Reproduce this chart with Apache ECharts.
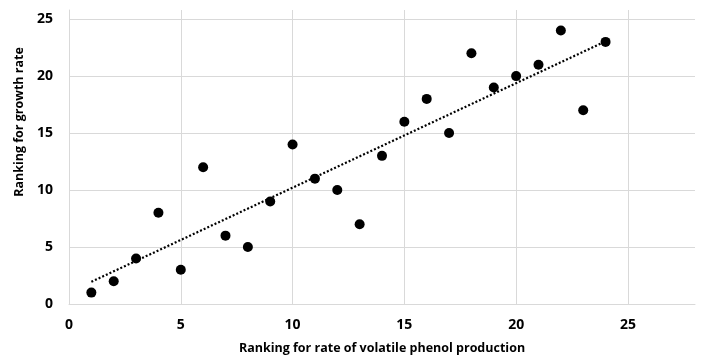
<!DOCTYPE html>
<html>
<head>
<meta charset="utf-8">
<script src="https://cdn.jsdelivr.net/npm/echarts@6/dist/echarts.min.js"></script>
<style>
  html, body { margin: 0; padding: 0; background: #fff; }
  #main { width: 701px; height: 360px; }
</style>
</head>
<body>
<div id="main"></div>
<script>
// ranking for rate of volatile phenol production
var phenolRank = [1, 2, 3, 4, 5, 6, 7, 8, 9, 10, 11, 12, 13, 14, 15, 16, 17, 18, 19, 20, 21, 22, 23, 24];
// ranking for growth rate
var growthRank = [1, 2, 4, 8, 3, 12, 6, 5, 9, 14, 11, 10, 7, 13, 16, 18, 15, 22, 19, 20, 21, 24, 17, 23];
var xTicks = [0, 5, 10, 15, 20, 25];
var yTicks = [0, 5, 10, 15, 20, 25];

var points = phenolRank.map(function (x, i) { return [x, growthRank[i]]; });

// linear trendline (least squares)
var n = points.length, sx = 0, sy = 0, sxy = 0, sxx = 0;
points.forEach(function (p) { sx += p[0]; sy += p[1]; sxy += p[0] * p[1]; sxx += p[0] * p[0]; });
var slope = (n * sxy - sx * sy) / (n * sxx - sx * sx);
var icpt = (sy - slope * sx) / n;
var xMin = Math.min.apply(null, phenolRank), xMax = Math.max.apply(null, phenolRank);
var trend = [[xMin, icpt + slope * xMin], [xMax, icpt + slope * xMax]];

var grid = '#d9d9d9';
var font = '"Open Sans", Lato, sans-serif';
function tickLabel(list) {
    return function (v) { return list.indexOf(v) >= 0 ? String(v) : ''; };
}

var myChart = echarts.init(document.getElementById('main'));
var option = {
    animation: false,
    grid: {left: 69, right: 6, top: 10, bottom: 54},
    xAxis: {
        type: 'value',
        min: 0,
        max: 28,
        interval: 5,
        name: 'Ranking for rate of volatile phenol production',
        nameLocation: 'middle',
        nameGap: 38,
        nameTextStyle: {fontFamily: font, fontWeight: 'bold', fontSize: 12.5, color: '#000'},
        axisLine: {show: true, lineStyle: {color: grid, width: 1}},
        axisTick: {show: false},
        axisLabel: {margin: 14, fontFamily: font, fontWeight: 'bold', fontSize: 14, color: '#000',
            formatter: tickLabel(xTicks)},
        splitLine: {show: true, lineStyle: {color: [grid, grid, grid, grid, grid, grid, 'rgba(0,0,0,0)'], width: 1}}
    },
    yAxis: {
        type: 'value',
        min: 0,
        max: 25.8,
        interval: 5,
        name: 'Ranking for growth rate',
        nameLocation: 'middle',
        nameGap: 42,
        nameTextStyle: {fontFamily: font, fontWeight: 'bold', fontSize: 12.5, color: '#000', padding: [0, 0, 0, 70]},
        axisLine: {show: true, lineStyle: {color: grid, width: 1}},
        axisTick: {show: false},
        axisLabel: {margin: 16, fontFamily: font, fontWeight: 'bold', fontSize: 14, color: '#000',
            formatter: tickLabel(yTicks)},
        splitLine: {show: true, lineStyle: {color: [grid, grid, grid, grid, grid, grid, 'rgba(0,0,0,0)'], width: 1}}
    },
    series: [
        {
            type: 'line',
            data: trend,
            symbol: 'none',
            silent: true,
            lineStyle: {color: '#000', width: 2.2, type: [2, 2]},
            z: 2
        },
        {
            type: 'scatter',
            data: points,
            symbol: 'circle',
            symbolSize: 10,
            itemStyle: {color: '#000', opacity: 1},
            z: 3
        }
    ]
};
myChart.setOption(option);
</script>
</body>
</html>
